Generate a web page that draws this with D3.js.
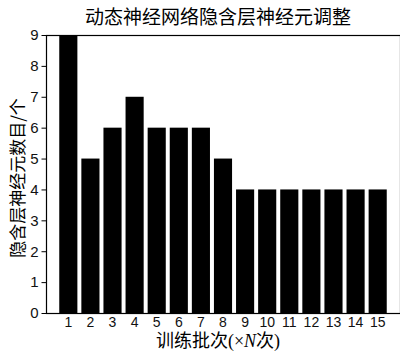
<!DOCTYPE html>
<html>
<head>
<meta charset="utf-8">
<script src="https://cdn.jsdelivr.net/npm/d3@7"></script>
<style>
  body { margin: 0; background: #fff; }
  svg { display: block; }
</style>
</head>
<body>
<svg id="chart" width="400" height="351"></svg>
<script>
// batches and neuron counts
var batches = ["1", "2", "3", "4", "5", "6", "7", "8", "9", "10", "11", "12", "13", "14", "15"];
var neurons = [9, 5, 6, 7, 6, 6, 6, 5, 4, 4, 4, 4, 4, 4, 4];
var yTicks = [0, 1, 2, 3, 4, 5, 6, 7, 8, 9];

var svg = d3.select("#chart");
var plotL = 46, plotR = 400, plotT = 35, plotB = 313;

var x = d3.scaleBand()
  .domain(batches)
  .range([plotL, plotR])
  .paddingInner(0.18)
  .paddingOuter(0.6);

var y = d3.scaleLinear()
  .domain([0, 9])
  .range([plotB, plotT]);

// bars
svg.append("g")
  .selectAll("rect")
  .data(neurons)
  .enter().append("rect")
  .attr("x", function (d, i) { return x(batches[i]); })
  .attr("width", x.bandwidth())
  .attr("y", function (d) { return y(d); })
  .attr("height", function (d) { return y(0) - y(d); })
  .attr("fill", "#000");

// frame
svg.append("rect")
  .attr("x", plotL + 0.5)
  .attr("y", plotT + 0.5)
  .attr("width", plotR - plotL)
  .attr("height", plotB - plotT)
  .attr("fill", "none")
  .attr("stroke", "#000")
  .attr("stroke-width", 1.2);

// y axis
var yAxis = svg.append("g")
  .attr("transform", "translate(" + (plotL + 0.5) + ",0)")
  .call(d3.axisLeft(y).tickValues(yTicks).tickSize(5).tickPadding(3).tickFormat(d3.format("d")));
yAxis.select(".domain").remove();
yAxis.selectAll("text")
  .attr("font-family", "Liberation Sans, Arial, sans-serif")
  .attr("font-size", 15)
  .attr("fill", "#111");

// x axis
var xAxis = svg.append("g")
  .attr("transform", "translate(0," + (plotB + 0.5) + ")")
  .call(d3.axisBottom(x).tickSize(0).tickPadding(4));
xAxis.select(".domain").remove();
xAxis.selectAll("text")
  .attr("font-family", "Liberation Sans, Arial, sans-serif")
  .attr("font-size", 14)
  .attr("fill", "#111");

// title
svg.append("text")
  .attr("x", 218)
  .attr("y", 24)
  .attr("text-anchor", "middle")
  .attr("font-family", "Noto Sans CJK SC, sans-serif")
  .attr("font-size", 19)
  .text("动态神经网络隐含层神经元调整");

// y label
svg.append("text")
  .attr("transform", "translate(24,178) rotate(-90)")
  .attr("text-anchor", "middle")
  .attr("font-family", "Noto Sans CJK SC, sans-serif")
  .attr("font-size", 17)
  .text("隐含层神经元数目/个");

// x label
var xl = svg.append("text")
  .attr("x", 218)
  .attr("y", 347)
  .attr("text-anchor", "middle")
  .attr("font-family", "Liberation Serif, Noto Sans CJK SC, serif")
  .attr("font-size", 18);
xl.append("tspan").attr("font-family", "Noto Sans CJK SC, sans-serif").text("训练批次");
xl.append("tspan").text("(×");
xl.append("tspan").attr("font-style", "italic").text("N");
xl.append("tspan").attr("font-family", "Noto Sans CJK SC, sans-serif").text("次");
xl.append("tspan").text(")");
</script>
</body>
</html>
